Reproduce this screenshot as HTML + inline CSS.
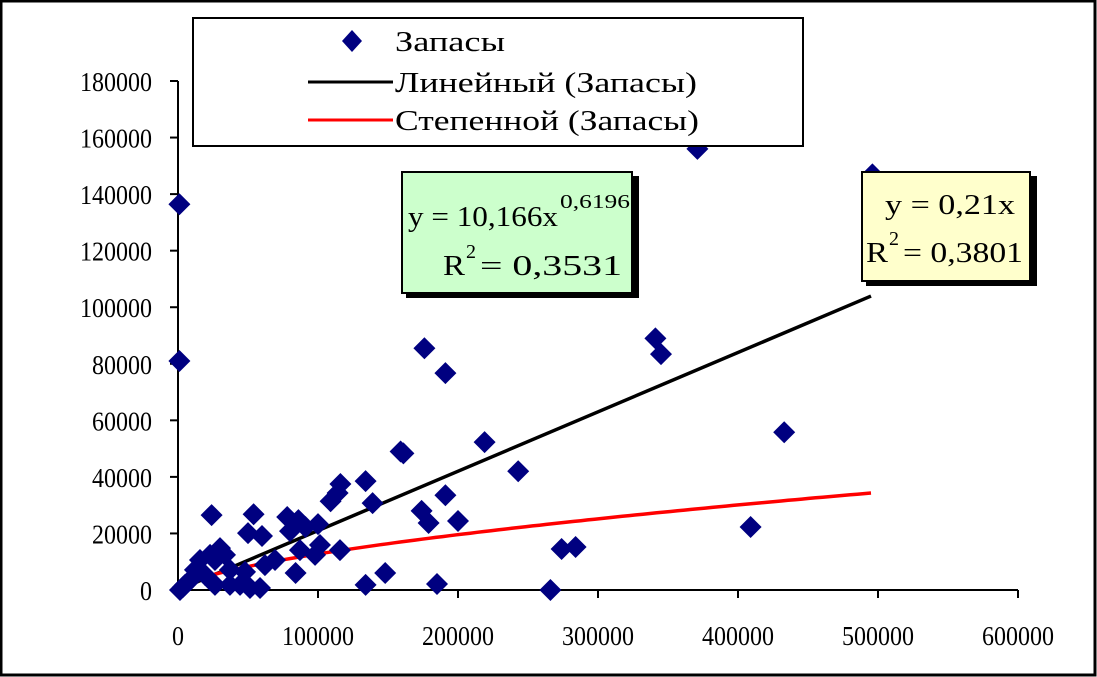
<!DOCTYPE html>
<html><head><meta charset="utf-8"><style>
body{margin:0;background:#fff;}
svg{display:block;font-family:"Liberation Serif",serif;}
</style></head><body>
<svg id="chart" width="1097" height="677">
<rect x="1" y="1" width="1094" height="674" fill="#fff" stroke="#000" stroke-width="3"/>
<g id="axes"></g>
<g id="trend"></g>
<g id="pts"></g>
<g>
<rect x="193" y="18" width="610" height="128" fill="#fff" stroke="#000" stroke-width="2"/>
<path d="M352,30 l10,11 l-10,11 l-10,-11z" fill="#000080"/>
<text x="395" y="51" font-size="28" textLength="110" lengthAdjust="spacingAndGlyphs">Запасы</text>
<line x1="308" y1="82" x2="393" y2="82" stroke="#000" stroke-width="3"/>
<text x="395" y="92" font-size="28" textLength="302" lengthAdjust="spacingAndGlyphs">Линейный (Запасы)</text>
<line x1="308" y1="120" x2="393" y2="120" stroke="#f00" stroke-width="3"/>
<text x="395" y="130" font-size="28" textLength="304" lengthAdjust="spacingAndGlyphs">Степенной (Запасы)</text>
</g>
<g>
<rect x="406" y="176" width="233" height="122" fill="#000"/>
<rect x="402" y="172" width="230" height="121" fill="#ccffcc" stroke="#000" stroke-width="2"/>
<text x="408" y="226" font-size="28" textLength="150" lengthAdjust="spacingAndGlyphs">y = 10,166x</text>
<text x="560" y="208" font-size="20" textLength="70" lengthAdjust="spacingAndGlyphs">0,6196</text>
<text x="443" y="275" font-size="28" textLength="22" lengthAdjust="spacingAndGlyphs">R</text>
<text x="466" y="258" font-size="20">2</text>
<text x="480" y="275" font-size="28" textLength="142" lengthAdjust="spacingAndGlyphs">= 0,3531</text>
</g>
<g>
<rect x="866" y="176" width="171" height="110" fill="#000"/>
<rect x="862" y="172" width="168" height="109" fill="#ffffcc" stroke="#000" stroke-width="2"/>
<text x="885" y="214" font-size="28" textLength="130" lengthAdjust="spacingAndGlyphs">y = 0,21x</text>
<text x="866" y="262" font-size="28" textLength="22" lengthAdjust="spacingAndGlyphs">R</text>
<text x="889" y="245" font-size="20">2</text>
<text x="903" y="262" font-size="28" textLength="120" lengthAdjust="spacingAndGlyphs">= 0,3801</text>
</g>
</svg>
<script>
const xTicks=[0,100000,200000,300000,400000,500000,600000];
const yTicks=[0,20000,40000,60000,80000,100000,120000,140000,160000,180000];
const xVals=[1000,1000,371000,496000,176000,191000,341000,345000,433000,219000,243000,159000,161000,134000,116000,114000,109000,139000,191000,174000,179000,200000,24000,54000,78000,86000,91000,100000,50000,60000,80000,84000,148000,134000,185000,266000,284000,274000,409000,5000,8600,12100,15700,22900,26400,30000,33600,19300,26400,37100,44300,51400,58600,37100,47900,62100,69300,87100,97900,101400,115700,1400,3500];
const yVals=[136400,81000,156000,147000,85500,76700,89000,83400,55800,52300,42000,49000,48300,38500,37500,34300,31400,30700,33500,28000,23700,24400,26500,26800,25800,24700,22300,23300,20100,19100,20800,6000,6000,1800,2100,0,15200,14500,22300,1800,3500,7100,10600,12400,10600,14800,12400,5300,1800,1800,1800,700,700,7100,6400,8800,10600,14100,12400,15900,14100,0,1000];
const linSlope=0.21, powA=10.166, powB=0.6196, trendXmin=1500, trendXmax=495000;
const X=v=>178+v/600000*840, Y=v=>590-v/180000*509;
const NS='http://www.w3.org/2000/svg';
function mk(tag,attrs,parent){const e=document.createElementNS(NS,tag);for(const k in attrs)e.setAttribute(k,attrs[k]);parent.appendChild(e);return e;}
const ax=document.getElementById('axes');
const ya=mk('line',{x1:178,y1:81,x2:178,y2:590,stroke:'#000','stroke-width':2},ax);


const xa=mk('line',{x1:178,y1:590,x2:1018,y2:590,stroke:'#000','stroke-width':2},ax);


yTicks.forEach(v=>{mk('line',{x1:170,y1:Y(v),x2:178,y2:Y(v),stroke:'#000','stroke-width':2},ax);
const s=String(v);
const t=mk('text',{x:152,y:Y(v)+10,'font-size':27,'text-anchor':'end',textLength:s.length*12,lengthAdjust:'spacingAndGlyphs'},ax);t.textContent=s;

});
xTicks.forEach(v=>{mk('line',{x1:X(v),y1:590,x2:X(v),y2:598,stroke:'#000','stroke-width':2},ax);
const s=String(v);
const t=mk('text',{x:X(v),y:645,'font-size':27,'text-anchor':'middle',textLength:s.length*12,lengthAdjust:'spacingAndGlyphs'},ax);t.textContent=s;

});
const tr=document.getElementById('trend');
const ll=mk('line',{x1:X(0),y1:Y(0),x2:X(trendXmax),y2:Y(linSlope*trendXmax),stroke:'#000','stroke-width':3.5},tr);


let d='';for(let i=0;i<=100;i++){const x=trendXmin+(trendXmax-trendXmin)*i/100;d+=(i?'L':'M')+X(x).toFixed(1)+','+Y(powA*Math.pow(x,powB)).toFixed(1);}
const pl=mk('path',{d:d,fill:'none',stroke:'#f00','stroke-width':3.5},tr);


const pg=document.getElementById('pts');
xVals.forEach((xv,i)=>{const cx=X(xv),cy=Y(yVals[i]);
const p=mk('path',{d:`M${cx},${cy-11}l11,11l-11,11l-11,-11z`,fill:'#000080'},pg);

});
</script>
</body></html>
